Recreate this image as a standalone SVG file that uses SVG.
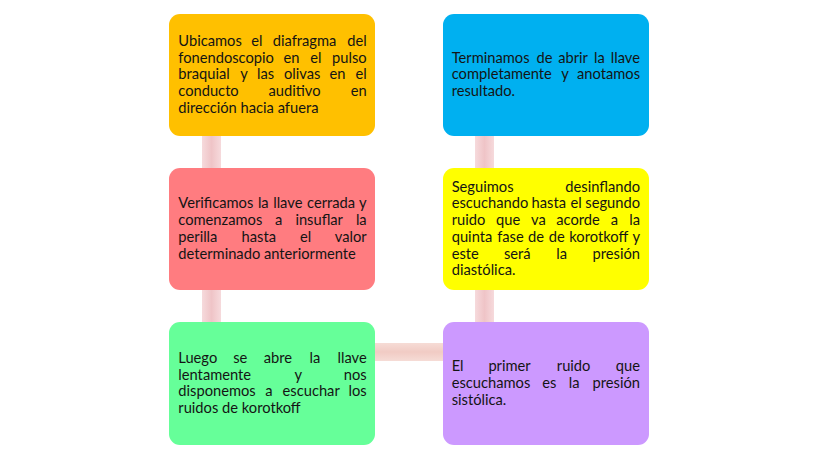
<svg xmlns="http://www.w3.org/2000/svg" width="828" height="466" viewBox="0 0 828 466">
<defs>
<linearGradient id="gv" x1="0" y1="0" x2="1" y2="0">
<stop offset="0" stop-color="#F6DADC"/><stop offset="0.5" stop-color="#EFC4C7"/><stop offset="1" stop-color="#F6DADC"/>
</linearGradient>
<linearGradient id="gh" x1="0" y1="0" x2="0" y2="1">
<stop offset="0" stop-color="#F6DCD6"/><stop offset="0.5" stop-color="#F1CBC4"/><stop offset="1" stop-color="#F6DCD6"/>
</linearGradient>
<style>
.b{stroke:none}
.t{font-family:Lato,"Noto Sans","Liberation Sans",sans-serif;font-size:14.7px;fill:#141414}
.e{text-anchor:end}
</style>
</defs>
<rect width="828" height="466" fill="#ffffff"/>
<g id="connectors">
<rect x="202" y="130" width="19" height="198" fill="url(#gv)"/>
<rect x="475" y="130" width="19" height="198" fill="url(#gv)"/>
<rect x="370" y="343" width="78" height="18" fill="url(#gh)"/>
</g>
<g id="n1">
<rect class="b" x="169" y="14" width="206" height="122" rx="11" fill="#FFC000"/>
<text class="t" y="46"><tspan x="178.3">Ubicamos</tspan><tspan x="251.2">el</tspan><tspan x="272.7">diafragma</tspan></text>
<text class="t e" x="366.7" y="46">del</text>
<text class="t" y="62.7"><tspan x="178.3">fonendoscopio</tspan><tspan x="283.5">en</tspan><tspan x="310.3">el</tspan></text>
<text class="t e" x="366.7" y="62.7">pulso</text>
<text class="t" y="79.4"><tspan x="178.3">braquial</tspan><tspan x="240.2">y</tspan><tspan x="257">las</tspan><tspan x="283.9">olivas</tspan><tspan x="329.6">en</tspan></text>
<text class="t e" x="366.7" y="79.4">el</text>
<text class="t" y="96.1"><tspan x="178.3">conducto</tspan><tspan x="268.5">auditivo</tspan></text>
<text class="t e" x="366.7" y="96.1">en</text>
<text class="t" x="178.3" y="112.8">dirección hacia afuera</text>
</g>
<g id="n2">
<rect class="b" x="169" y="168" width="206" height="122" rx="11" fill="#FF7C80"/>
<text class="t" y="208.4"><tspan x="178.3">Verificamos</tspan><tspan x="257.9">la</tspan><tspan x="273.2">llave</tspan><tspan x="307">cerrada</tspan></text>
<text class="t e" x="366.7" y="208.4">y</text>
<text class="t" y="225.1"><tspan x="178.3">comenzamos</tspan><tspan x="274.9">a</tspan><tspan x="295.4">insuflar</tspan></text>
<text class="t e" x="366.7" y="225.1">la</text>
<text class="t" y="241.8"><tspan x="178.3">perilla</tspan><tspan x="241.6">hasta</tspan><tspan x="299.9">el</tspan></text>
<text class="t e" x="366.7" y="241.8">valor</text>
<text class="t" x="178.3" y="258.5">determinado anteriormente</text>
</g>
<g id="n3">
<rect class="b" x="169" y="322" width="206" height="123" rx="11" fill="#66FF99"/>
<text class="t" y="362.9"><tspan x="178.3">Luego</tspan><tspan x="233.2">se</tspan><tspan x="263.8">abre</tspan><tspan x="309.5">la</tspan></text>
<text class="t e" x="366.7" y="362.9">llave</text>
<text class="t" y="379.6"><tspan x="178.3">lentamente</tspan><tspan x="294.5">y</tspan></text>
<text class="t e" x="366.7" y="379.6">nos</text>
<text class="t" y="396.3"><tspan x="178.3">disponemos</tspan><tspan x="265.2">a</tspan><tspan x="282.6">escuchar</tspan></text>
<text class="t e" x="366.7" y="396.3">los</text>
<text class="t" x="178.3" y="413">ruidos de korotkoff</text>
</g>
<g id="n4">
<rect class="b" x="443" y="14" width="206" height="122" rx="11" fill="#00B0F0"/>
<text class="t" y="62.7"><tspan x="451.7">Terminamos</tspan><tspan x="536.6">de</tspan><tspan x="558.2">abrir</tspan><tspan x="594">la</tspan></text>
<text class="t e" x="640" y="62.7">llave</text>
<text class="t" y="79.4"><tspan x="451.7">completamente</tspan><tspan x="561.2">y</tspan></text>
<text class="t e" x="640" y="79.4">anotamos</text>
<text class="t" x="451.7" y="96.1">resultado.</text>
</g>
<g id="n5">
<rect class="b" x="443" y="168" width="206" height="122" rx="11" fill="#FFFF00"/>
<text class="t" x="451.7" y="191.7">Seguimos</text>
<text class="t e" x="640" y="191.7">desinflando</text>
<text class="t" y="208.4"><tspan x="451.7">escuchando</tspan><tspan x="531.6">hasta</tspan><tspan x="570.4">el</tspan></text>
<text class="t e" x="640" y="208.4">segundo</text>
<text class="t" y="225.1"><tspan x="451.7">ruido</tspan><tspan x="496.1">que</tspan><tspan x="531">va</tspan><tspan x="556.3">acorde</tspan><tspan x="610.8">a</tspan></text>
<text class="t e" x="640" y="225.1">la</text>
<text class="t" y="241.8"><tspan x="451.7">quinta</tspan><tspan x="497.2">fase</tspan><tspan x="528">de</tspan><tspan x="548.7">de</tspan><tspan x="569.3">korotkoff</tspan></text>
<text class="t e" x="640" y="241.8">y</text>
<text class="t" y="258.5"><tspan x="451.7">este</tspan><tspan x="504">será</tspan><tspan x="556.2">la</tspan></text>
<text class="t e" x="640" y="258.5">presión</text>
<text class="t" x="451.7" y="275.2">diastólica.</text>
</g>
<g id="n6">
<rect class="b" x="443" y="322" width="206" height="123" rx="11" fill="#CC99FF"/>
<text class="t" y="371.2"><tspan x="451.7">El</tspan><tspan x="488.4">primer</tspan><tspan x="556.8">ruido</tspan></text>
<text class="t e" x="640" y="371.2">que</text>
<text class="t" y="387.9"><tspan x="451.7">escuchamos</tspan><tspan x="542.2">es</tspan><tspan x="568.8">la</tspan></text>
<text class="t e" x="640" y="387.9">presión</text>
<text class="t" x="451.7" y="404.6">sistólica.</text>
</g>
</svg>
